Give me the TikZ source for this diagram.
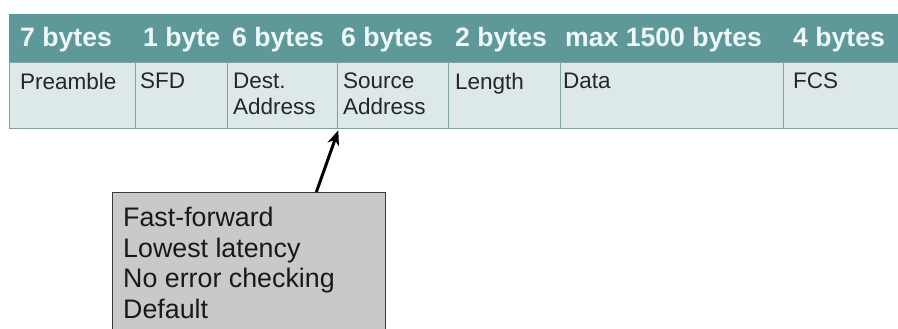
\documentclass[tikz,border=0pt]{standalone}
\usepackage{fontspec}
\setmainfont{Liberation Sans}
\usetikzlibrary{arrows.meta,calc}
\definecolor{hdrbg}{HTML}{5F9898}
\definecolor{cellbg}{HTML}{DDE9E9}
\definecolor{cellline}{HTML}{7FA3A3}
\definecolor{hdrtext}{HTML}{EEF8F8}
\definecolor{boxfill}{HTML}{C9C9C9}
\definecolor{boxline}{HTML}{3A3A3A}
\begin{document}
\begin{tikzpicture}[x=1pt,y=-1pt,
  hdrrow/.style={fill=hdrbg,draw=none,inner sep=0,minimum height=48pt,anchor=north west},
  cell/.style={fill=cellbg,draw=cellline,line width=1.3pt,inner sep=0,minimum height=66pt,anchor=north west},
  hdrlabel/.style={anchor=base west,inner sep=0,text=hdrtext,font=\fontsize{26.6}{30}\selectfont\bfseries},
  celllabel/.style={anchor=north west,inner sep=0,align=left,text=black!85,font=\fontsize{22.5}{26}\selectfont},
  notebox/.style={fill=boxfill,draw=boxline,line width=1.3pt,inner sep=0,anchor=north west},
  notetext/.style={anchor=north west,inner sep=0,align=left,text=black!90,font=\fontsize{26.8}{30.5}\selectfont},
  pointer/.style={-{Stealth[length=15pt,width=12pt]},line width=3pt,black}]
\useasboundingbox (0,0) rectangle (898,329);
\fill[white] (0,0) rectangle (898,329);
% header row
\node[hdrrow,minimum width=895pt] (hdr) at (9,14) {};
% body cells
\node[cell,minimum width=126pt] (pre) at (9,62) {};
\node[cell,minimum width=92pt] (sfd) at (135,62) {};
\node[cell,minimum width=110pt] (dst) at (227,62) {};
\node[cell,minimum width=111pt] (src) at (337,62) {};
\node[cell,minimum width=112pt] (len) at (448,62) {};
\node[cell,minimum width=223pt] (dat) at (560,62) {};
\node[cell,minimum width=125pt] (fcs) at (783,62) {};
% header labels
\node[hdrlabel] (h1) at (20,47) {7 bytes};
\node[hdrlabel] (h2) at (143,47) {1 byte};
\node[hdrlabel] (h3) at (232,47) {6 bytes};
\node[hdrlabel] (h4) at (341,47) {6 bytes};
\node[hdrlabel] (h5) at (455,47) {2 bytes};
\node[hdrlabel] (h6) at (565,47) {max 1500 bytes};
\node[hdrlabel] (h7) at (793,47) {4 bytes};
% cell labels
\node[celllabel] (t1) at (20,73) {Preamble};
\node[celllabel] (t2) at (140,73) {SFD};
\node[celllabel] (t3) at (233,73) {Dest.\\Address};
\node[celllabel] (t4) at (343,73) {Source\\Address};
\node[celllabel] (t5) at (455,73) {Length};
\node[celllabel] (t6) at (563,73) {Data};
\node[celllabel] (t7) at (793,73) {FCS};
% note box
\node[notebox,minimum width=273pt,minimum height=150pt] (note) at (112,192) {};
\node[notetext] (nt) at (123,207) {Fast-forward\\Lowest latency\\No error checking\\Default};
% pointer
\draw[pointer] ($(note.north west)!0.745!(note.north east)$) -- ($(dst.south east)+(0,1)$);
\end{tikzpicture}
\end{document}
